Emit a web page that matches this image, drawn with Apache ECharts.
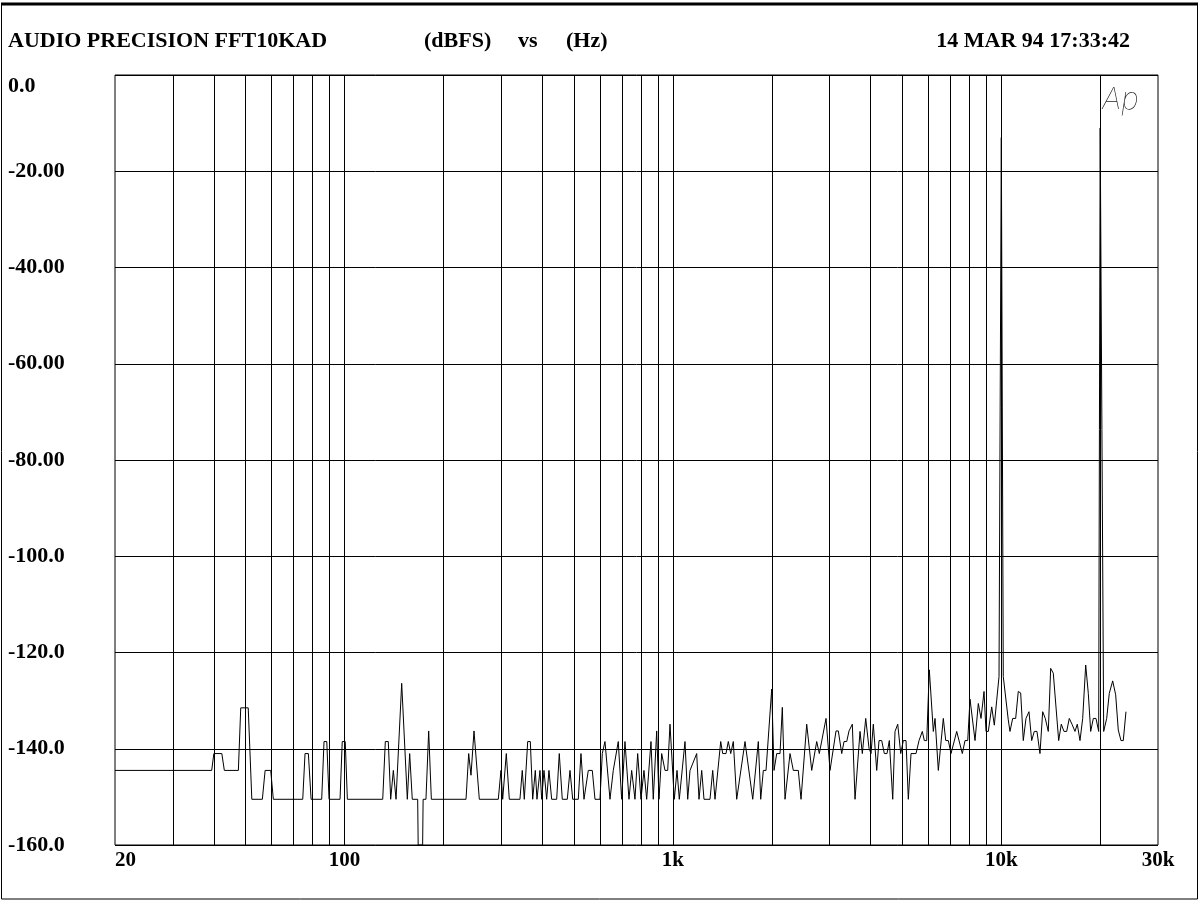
<!DOCTYPE html>
<html><head><meta charset="utf-8">
<script src="https://cdn.jsdelivr.net/npm/echarts@6/dist/echarts.min.js"></script>
<style>html,body{margin:0;padding:0;background:#fff}#c{width:1200px;height:901px}</style>
</head><body><div id="c"></div>
<script>
// ---- data ----
const freqHz = [20,39.4,40.0,42.3,43.05,47.5,48.3,50.9,52.2,56.2,57.3,59.6,60.7,74.6,75.8,77.6,79.1,85.2,86.6,88.3,89.7,96.9,98.4,100.5,102.0,
130.7,133.1,135.9,138.2,140.8,143.5,149.3,155.3,157.9,160.8,167.0,167.6,172.9,173.5,177.0,180.4,183.8,
234.4,238.8,242.7,247.9,257.3,293.9,299.5,303.1,310.9,317.5,342.1,347.7,352.7,361.2,367.9,374.1,381.0,385.5,393.7,398.4,404.9,412.6,419.3,427.3,442.6,450.7,460.3,476.8,485.9,495.2,515.0,524.8,536.0,552.4,568.1,579.0,599.6,
609.4,621.0,643.2,658.2,666.1,681.7,698.1,714.5,734.8,748.8,766.4,781.0,799.3,816.3,831.9,857.4,871.3,892.4,906.9,924.2,945.9,964.0,979.6,1009.6,1029.1,1045.7,1088.3,1109.2,1127.2,1143.1,1181.4,1200.6,1223.6,1243.4,1296.9,1321.7,1343.2,1398.0,1417.7,1450.9,1474.5,1499.5,1527.1,1563.9,1657.6,1750.1,1819.8,1850.7,1884.8,1920.8,1999.0,2031.6,2070.4,2118.9,2153.3,2194.5,2272.8,2326.0,2408.9,2455.0,2555.1,2646.3,2740.7,2791.1,2925.4,3008.6,3137.9,3189.0,3265.9,3319.0,3382.4,3437.4,3517.9,3585.1,3713.0,3773.4,3864.4,3954.9,4010.7,4075.9,4174.2,4242.1,4323.2,4402.8,4486.9,4560.0,4669.9,4745.8,4836.5,4939.3,5030.2,5126.4,5209.7,5309.2,5498.7,5615.5,5746.9,5828.1,5927.0,6036.1,6207.8,6282.1,6429.2,6658.7,6771.7,6896.3,7028.1,7314.5,7607.6,7752.9,7901.1,8029.5,8315.9,8510.6,8673.2,8857.7,8982.6,9128.8,9348.9,9521.0,9682.6,9840.0,10000,10138,10500,10626,10829,11059,11263,11454,11665,11888,12140,12373,12600,12841,13114,13365,13611,13900,14136,14396,14952,15227,15518,15815,16106,16414,16763,17036,17361,17693,18069,18402,18714,19059,19423,19794,20000,20497,20933,21318,21832,22296,22706,23140,23516,23966];
const levelDb = [-144.5,-144.5,-141,-141,-144.5,-144.5,-131.5,-131.5,-150.5,-150.5,-144.5,-144.5,-150.5,-150.5,-141,-141,-150.5,-150.5,-138.5,-138.5,-150.5,-150.5,-138.5,-138.5,-150.5,
-150.5,-138.5,-138.5,-150.5,-144.5,-150.5,-126.4,-150.5,-141,-150.5,-150.5,-160,-160,-150.5,-150.5,-136.3,-150.5,
-150.5,-141,-145.5,-136.3,-150.5,-150.5,-144.5,-150.5,-141,-150.5,-150.5,-144.5,-150.5,-138.5,-138.5,-150.5,-144.5,-150.5,-144.5,-150.5,-144.5,-150.5,-144.5,-150.5,-150.5,-141,-150.5,-150.5,-144.5,-150.5,-150.5,-141,-150.5,-144.5,-144.5,-150.5,-150.5,
-141,-138.5,-150.5,-144.5,-144.5,-138.5,-150.5,-138.5,-150.5,-144.5,-150.5,-141,-150.5,-144.5,-150.5,-138.5,-150.5,-136.3,-150.5,-141,-144.5,-144.5,-134.9,-150.5,-144.5,-150.5,-138.5,-150.5,-144.5,-144.5,-141,-150.5,-144.5,-150.5,-150.5,-144.5,-150.5,-138.5,-141,-141,-138.5,-141,-138.5,-150.5,-138.5,-150.5,-138.5,-150.5,-144.5,-144.5,-127.6,-144.5,-141,-141,-131.4,-150.5,-141,-144.5,-144.5,-150.5,-134.9,-144.5,-138.5,-141,-133.7,-144.5,-136.3,-136.3,-141,-138.5,-138.5,-136.3,-134.9,-150.5,-136.4,-141,-133.7,-139.9,-141,-134.9,-144.5,-138.3,-138.3,-141,-141,-138.3,-150.5,-136.4,-134.9,-141,-138.3,-138.3,-150.5,-141,-141,-138.3,-136.4,-138.3,-138.3,-123.6,-136.4,-133.7,-144.5,-133.7,-138.3,-138.3,-141,-136.4,-141,-138.3,-138.3,-129.7,-138.3,-130.6,-133.7,-128.1,-136.4,-136.4,-131.3,-135.1,-129.9,-125.0,-13,-125.0,-134.0,-136.4,-133.7,-133.7,-128.1,-128.4,-138.3,-133.7,-132.3,-138.3,-136.4,-136.4,-141,-132.3,-133.7,-136.4,-123.3,-124.3,-138.3,-134.9,-136.4,-136.4,-133.7,-134.9,-136.4,-134.9,-138.3,-133.7,-122.6,-128.5,-136.4,-133.7,-133.7,-136.4,-11,-136.4,-133.7,-128.5,-125.9,-128.8,-136.1,-138.3,-138.3,-132.3];

const gridFreqs = [30,40,50,60,70,80,90,100,200,300,400,500,600,700,800,900,1000,2000,3000,4000,5000,6000,7000,8000,9000,10000,20000];
const xTickValues = [20,100,1000,10000,30000];
const xTickLabels = ['20','100','1k','10k','30k'];
const yTickValues = [0,-20,-40,-60,-80,-100,-120,-140,-160];
const yTickLabels = ['0.0','-20.00','-40.00','-60.00','-80.00','-100.0','-120.0','-140.0','-160.0'];
const headerLeft = 'AUDIO PRECISION FFT10KAD';
const headerUnitsY = '(dBFS)';
const headerVs = 'vs';
const headerUnitsX = '(Hz)';
const headerDate = '14 MAR 94 17:33:42';
const logoText = 'Ap';

// ---- chart ----
const FONT = 'Liberation Serif';
const seriesData = freqHz.map((f, i) => [f, levelDb[i]]);
const chart = echarts.init(document.getElementById('c'), null, {renderer: 'canvas'});
const txt = (t, x, y, extra) => Object.assign({type: 'text', x: x, y: y, style: Object.assign({text: t, fill: '#000', font: 'bold 22px "' + FONT + '"', textVerticalAlign: 'middle'}, extra || {})});
chart.setOption({
  animation: false,
  backgroundColor: '#fff',
  grid: {left: 115, right: 42, top: 75, bottom: 56, show: true, borderColor: '#000', borderWidth: 1, containLabel: false},
  xAxis: {
    type: 'log', logBase: 10, min: 20, max: 30000,
    axisLine: {show: false}, axisTick: {show: false}, splitLine: {show: false}, minorSplitLine: {show: false},
    axisLabel: {
      show: true, margin: 5, color: '#000', fontFamily: FONT, fontWeight: 'bold', fontSize: 21,
      alignMinLabel: 'left', showMinLabel: true, showMaxLabel: true,
      formatter: function (v) {
        for (let i = 0; i < xTickValues.length; i++) {
          if (Math.abs(Math.log10(v) - Math.log10(xTickValues[i])) < 1e-3) return xTickLabels[i];
        }
        return '';
      }
    }
  },
  yAxis: {
    type: 'value', min: -160, max: 0, interval: 20,
    axisLine: {show: false}, axisTick: {show: false},
    splitLine: {show: true, lineStyle: {color: '#000', width: 1}},
    axisLabel: {
      show: true, margin: 107, align: 'left', color: '#000', fontFamily: FONT, fontWeight: 'bold', fontSize: 22,
      verticalAlignMaxLabel: 'top',
      formatter: function (v) {
        const i = yTickValues.indexOf(Math.round(v));
        return i >= 0 ? yTickLabels[i] : '';
      }
    }
  },
  series: [{
    type: 'line', data: seriesData, showSymbol: false, symbol: 'none',
    lineStyle: {color: '#000', width: 1}, silent: true,
    markLine: {
      silent: true, symbol: 'none', animation: false,
      label: {show: false},
      lineStyle: {color: '#000', width: 1, type: 'solid'},
      data: gridFreqs.map(f => ({xAxis: f}))
    }
  }],
  graphic: [
    {type: 'rect', shape: {x: 1.5, y: 4, width: 1196, height: 895}, style: {fill: null, stroke: '#000', lineWidth: 1}},
    {type: 'line', shape: {x1: 1, y1: 4, x2: 1198, y2: 4}, style: {stroke: '#000', lineWidth: 3}},
    txt(headerLeft, 8, 41),
    txt(headerUnitsY, 424, 41),
    txt(headerVs, 518, 41),
    txt(headerUnitsX, 566, 41),
    txt(headerDate, 1130, 41, {textAlign: 'right'}),
    {type: 'text', x: 1102, y: 100, style: {text: logoText, fill: '#222', font: 'italic 100 30px Inter, Roboto, Lato, sans-serif', textVerticalAlign: 'middle'}}
  ]
});
</script></body></html>
